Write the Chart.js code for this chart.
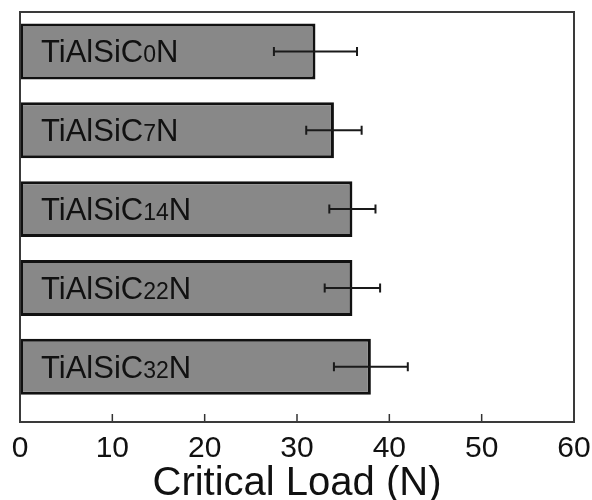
<!DOCTYPE html>
<html lang="en">
<head>
    <meta charset="UTF-8">
    <title>Critical Load</title>
    <style>
        html, body {
            margin: 0;
            padding: 0;
            background: #fff;
        }

        #wrap {
            width: 592px;
            height: 500px;
        }
    </style>
    <script src="https://cdn.jsdelivr.net/npm/chart.js"></script>
</head>
<body>
    <div id="wrap">
        <canvas id="chart"></canvas>
    </div>

    <script>
        // data
        const labelPrefix = 'TiAlSiC';
        const labelSubs = ['0', '7', '14', '22', '32'];
        const labelSuffix = 'N';
        const rowPos = [1, 2, 3, 4, 5];
        const loads = [32, 34, 36, 36, 38];
        const loadErr = [4.5, 3, 2.5, 3, 4];
        const xTicks = [0, 10, 20, 30, 40, 50, 60];

        const FONT = "'Liberation Sans', Arial, sans-serif";

        // frame, inward ticks, error bars and in-bar labels
        const extras = {
            id: 'extras',
            afterDatasetsDraw(chart) {
                const ctx = chart.ctx;
                const area = chart.chartArea;
                const xs = chart.scales.x;
                const ys = chart.scales.y;
                ctx.save();

                // error bars
                ctx.strokeStyle = '#1a1a1a';
                ctx.lineWidth = 2;
                loads.forEach((v, i) => {
                    const y = ys.getPixelForValue(rowPos[i]);
                    const x0 = xs.getPixelForValue(v - loadErr[i]);
                    const x1 = xs.getPixelForValue(v + loadErr[i]);
                    ctx.beginPath();
                    ctx.moveTo(x0, y);
                    ctx.lineTo(x1, y);
                    ctx.moveTo(x0, y - 4.5);
                    ctx.lineTo(x0, y + 4.5);
                    ctx.moveTo(x1, y - 4.5);
                    ctx.lineTo(x1, y + 4.5);
                    ctx.stroke();
                });

                // labels inside bars, numbers set smaller
                ctx.fillStyle = '#111';
                ctx.textBaseline = 'alphabetic';
                ctx.textAlign = 'left';
                labelSubs.forEach((sub, i) => {
                    const y = ys.getPixelForValue(rowPos[i]) + 11;
                    let x = xs.getPixelForValue(0) + 21;
                    ctx.font = '31px ' + FONT;
                    ctx.fillText(labelPrefix, x, y);
                    x += ctx.measureText(labelPrefix).width;
                    ctx.font = '23px ' + FONT;
                    ctx.fillText(sub, x, y);
                    x += ctx.measureText(sub).width;
                    ctx.font = '31px ' + FONT;
                    ctx.fillText(labelSuffix, x, y);
                });

                // inward tick marks on the bottom axis
                ctx.strokeStyle = '#333';
                ctx.lineWidth = 1.5;
                xTicks.slice(1, -1).forEach(t => {
                    const x = xs.getPixelForValue(t);
                    ctx.beginPath();
                    ctx.moveTo(x, area.bottom);
                    ctx.lineTo(x, area.bottom - 8);
                    ctx.stroke();
                });

                // box around the plot
                ctx.strokeStyle = '#3a3a3a';
                ctx.lineWidth = 2;
                ctx.strokeRect(area.left, area.top, area.right - area.left, area.bottom - area.top);
                ctx.restore();
            }
        };

        const ctx = document.getElementById('chart').getContext('2d');
        const chart = new Chart(ctx, {
            type: 'bar',
            data: {
                datasets: [{
                    data: loads.map((v, i) => ({ x: v, y: rowPos[i] })),
                    backgroundColor: '#888888',
                    borderColor: '#111',
                    borderWidth: 3,
                    borderSkipped: false,
                    barPercentage: 0.71,
                    categoryPercentage: 1
                }]
            },
            options: {
                indexAxis: 'y',
                responsive: true,
                maintainAspectRatio: false,
                animation: false,
                layout: {
                    padding: { left: 20, right: 18, top: 12, bottom: -4 }
                },
                plugins: {
                    legend: { display: false },
                    tooltip: { enabled: false }
                },
                scales: {
                    x: {
                        type: 'linear',
                        min: 0,
                        max: 60,
                        afterBuildTicks: axis => {
                            axis.ticks = xTicks.map(v => ({ value: v }));
                        },
                        // keep the tick padding from eating into the plot width
                        afterFit: axis => {
                            axis.paddingLeft = 0;
                            axis.paddingRight = 0;
                        },
                        grid: { display: false, drawTicks: false },
                        border: { display: false },
                        ticks: {
                            color: '#111',
                            padding: 12,
                            maxRotation: 0,
                            font: { family: FONT, size: 30, lineHeight: 1 }
                        },
                        title: {
                            display: true,
                            text: 'Critical Load (N)',
                            color: '#111',
                            padding: { top: -12, bottom: 0 },
                            font: { family: FONT, size: 40, lineHeight: 1 }
                        }
                    },
                    y: {
                        type: 'linear',
                        reverse: true,
                        offset: false,
                        min: 0.5,
                        max: 5.7,
                        display: false,
                        // one tick per row so the bar width follows the row spacing
                        afterBuildTicks: axis => {
                            axis.ticks = rowPos.map(v => ({ value: v }));
                        }
                    }
                }
            },
            plugins: [extras]
        });
    </script>
</body>
</html>
